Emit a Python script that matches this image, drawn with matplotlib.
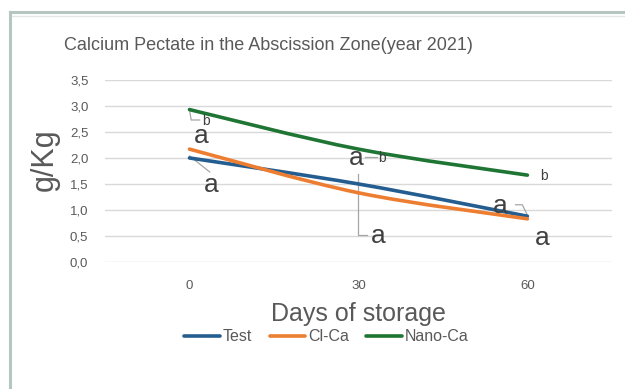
import matplotlib
matplotlib.use("Agg")
import matplotlib.pyplot as plt
from matplotlib.path import Path
from matplotlib.patches import PathPatch
from matplotlib.lines import Line2D
from matplotlib.ticker import FuncFormatter

days = ["0", "30", "60"]
test = [2.0, 1.5, 0.88]
cl_ca = [2.17, 1.33, 0.83]
nano_ca = [2.93, 2.17, 1.67]

series = [("Test", test, "#245d8f"),
          ("Cl-Ca", cl_ca, "#ed7d31"),
          ("Nano-Ca", nano_ca, "#1f7634")]

plt.rcParams["font.family"] = ["Liberation Sans", "DejaVu Sans"]
txt = "#595959"


def smooth_path(xs, ys, t=1 / 6):
    # cubic bezier through the points, like a spreadsheet "smoothed line"
    verts = [(xs[0], ys[0])]
    codes = [Path.MOVETO]
    n = len(xs)
    for i in range(n - 1):
        x0, y0 = (xs[i - 1], ys[i - 1]) if i > 0 else (xs[i], ys[i])
        x3, y3 = (xs[i + 2], ys[i + 2]) if i + 2 < n else (xs[i + 1], ys[i + 1])
        c1 = (xs[i] + (xs[i + 1] - x0) * t, ys[i] + (ys[i + 1] - y0) * t)
        c2 = (xs[i + 1] - (x3 - xs[i]) * t, ys[i + 1] - (y3 - ys[i]) * t)
        verts += [c1, c2, (xs[i + 1], ys[i + 1])]
        codes += [Path.CURVE4] * 3
    return Path(verts, codes)


fig = plt.figure(figsize=(6.25, 3.89), dpi=100)
ax = fig.add_axes([0.168, 0.3265, 0.811, 0.468])

xs = list(range(len(days)))
for name, vals, col in series:
    ax.add_patch(PathPatch(smooth_path(xs, vals), fill=False, edgecolor=col,
                           lw=2.6, capstyle="round", zorder=3))
    ax.plot([], [], color=col, lw=2.6, solid_capstyle="round", label=name)

ax.set_xlim(-0.5, 2.5)
ax.set_ylim(0, 3.5)
ax.set_yticks([0, 0.5, 1, 1.5, 2, 2.5, 3, 3.5])
ax.yaxis.set_major_formatter(FuncFormatter(lambda v, p: f"{v:.1f}".replace(".", ",")))
ax.set_xticks(xs)
ax.set_xticklabels(days)
ax.grid(axis="y", color="#d9d9d9", lw=1)
ax.set_axisbelow(True)
for s in ax.spines.values():
    s.set_visible(False)
ax.tick_params(length=0, colors=txt, labelsize=9.5)
ax.tick_params(axis="x", pad=13)
ax.tick_params(axis="y", pad=12)

fig.text(268 / 625, 1 - 45 / 389, "Calcium Pectate in the Abscission Zone(year 2021)",
         color=txt, fontsize=13, ha="center", va="center")
fig.text(45 / 625, 1 - 160 / 389, "g/Kg", color=txt, fontsize=22, rotation=90,
         ha="center", va="center")
ax.set_xlabel("Days of storage", color=txt, fontsize=18, labelpad=7)

# significance letters
big = dict(color="#404040", fontsize=19, ha="center", va="center")
small = dict(color="#404040", fontsize=10, ha="center", va="center")
grey = "#a6a6a6"
ax.text(0.07, 2.43, "a", **big)
ax.text(0.13, 1.48, "a", **big)
ax.text(0.10, 2.71, "b", **small)
ax.text(0.99, 2.0, "a", **big)
ax.text(1.14, 2.0, "b", **small)
ax.text(1.12, 0.50, "a", **big)
ax.text(1.84, 1.07, "a", **big)
ax.text(2.1, 1.65, "b", **small)
ax.text(2.09, 0.47, "a", **big)
lk = dict(color=grey, lw=0.9, zorder=2)
ax.plot([0.0, 0.12], [2.04, 1.73], **lk)
ax.plot([0.0, 0.01, 0.06], [2.93, 2.73, 2.73], **lk)
ax.plot([1.04, 1.11], [2.02, 2.02], **lk)
ax.plot([1.0, 1.0, 1.05], [1.70, 0.52, 0.52], **lk)
ax.plot([1.93, 1.97, 2.0], [1.1, 1.1, 0.9], **lk)

ax.legend(loc="upper center", bbox_to_anchor=(0.437, -0.29), ncol=3, frameon=False,
          fontsize=11.5, labelcolor=txt, handlelength=2.2, handletextpad=0.2,
          columnspacing=1.1)

# chart frame
fc = "#b5c5bf"
fig.add_artist(Line2D([10 / 625, 10 / 625], [0, 1 - 12 / 389], color=fc, lw=2.2,
                      transform=fig.transFigure))
fig.add_artist(Line2D([10 / 625, 1], [1 - 12 / 389, 1 - 12 / 389], color=fc, lw=2.2,
                      transform=fig.transFigure))
fig.add_artist(Line2D([12 / 625, 1], [1 - 15.5 / 389, 1 - 15.5 / 389], color="#e3e8e6",
                      lw=1, transform=fig.transFigure))

fig.savefig("out.png", dpi=100)
